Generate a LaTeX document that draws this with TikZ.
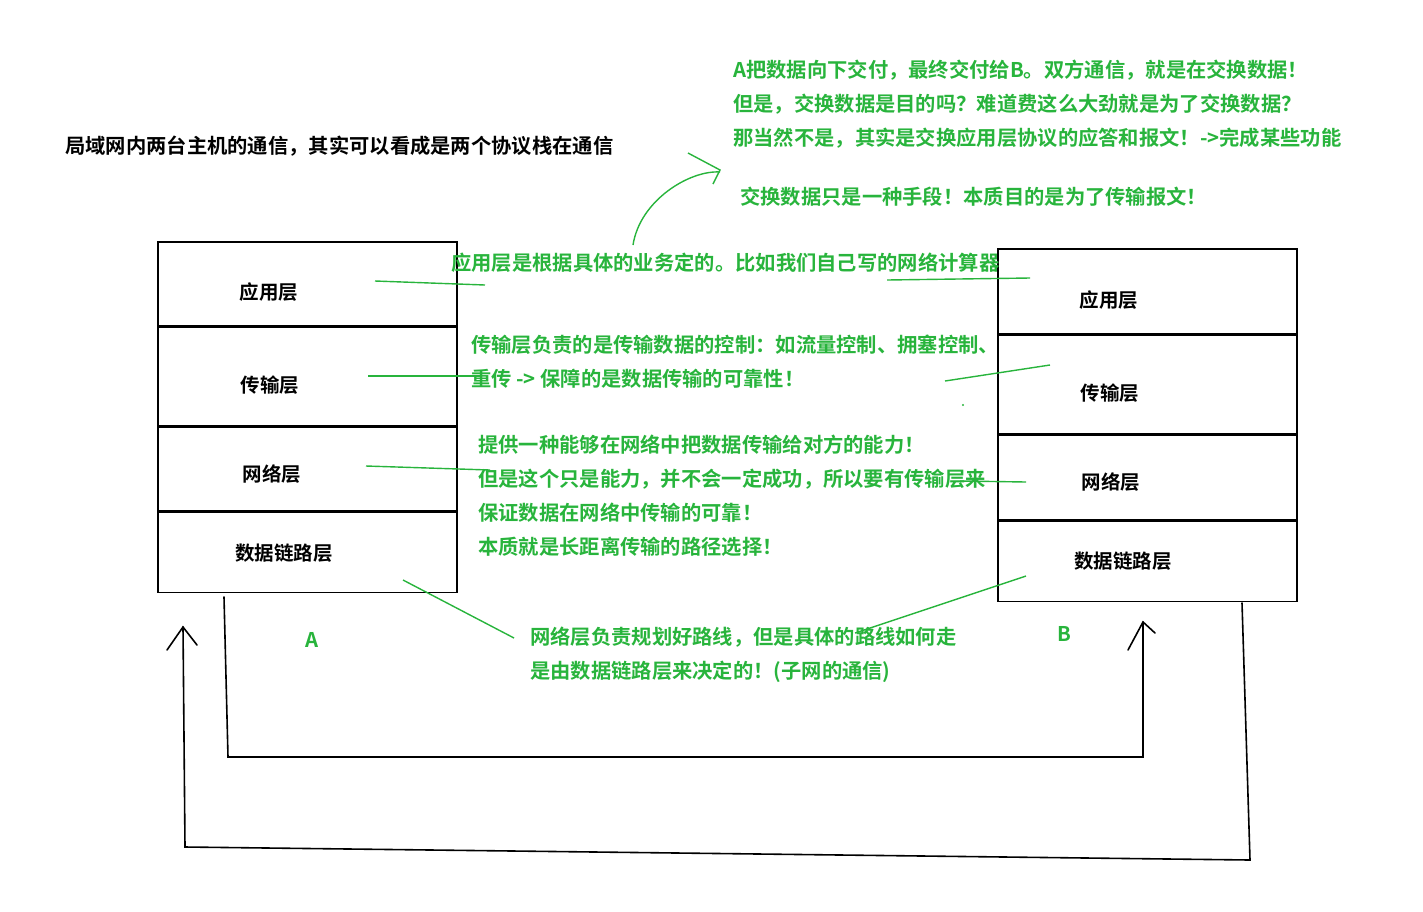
\documentclass[tikz,border=0pt]{standalone}
\usepackage{fontspec}
\setmainfont{Noto Sans CJK SC}[BoldFont={Noto Sans CJK SC Bold}]
\usetikzlibrary{positioning}
\definecolor{pen}{RGB}{40,180,60}
\tikzset{
  layer/.style={draw,line width=1.6pt,minimum width=299pt,inner sep=0pt},
  tag/.style={font=\bfseries\fontsize{19.5}{22}\selectfont,inner sep=0pt},
  note/.style={anchor=west,text=pen,font=\bfseries\fontsize{20.3}{34}\selectfont,align=left,inner sep=0pt},
  penline/.style={pen,line width=1.4pt},
  wire/.style={line width=1.6pt,line cap=round}
}
\begin{document}
\begin{tikzpicture}[x=1pt,y=-1pt]
\useasboundingbox (0,0) rectangle (1423,911);
% left stack
\node[layer,minimum height=84pt,anchor=north west] (a1) at (157,241) {};
\node[layer,minimum height=98pt,below=0pt of a1] (a2) {};
\node[layer,minimum height=84pt,below=0pt of a2] (a3) {};
\node[layer,minimum height=80pt,below=0pt of a3] (a4) {};
\node[tag] (ta1) at (269,292) {应用层};
\node[tag] (ta2) at (270,385) {传输层};
\node[tag] (ta3) at (272,474) {网络层};
\node[tag] (ta4) at (284,553) {数据链路层};
% right stack
\node[layer,minimum height=85pt,anchor=north west] (b1) at (997,248) {};
\node[layer,minimum height=98pt,below=0pt of b1] (b2) {};
\node[layer,minimum height=85pt,below=0pt of b2] (b3) {};
\node[layer,minimum height=80pt,below=0pt of b3] (b4) {};
\node[tag] (tb1) at (1109,300) {应用层};
\node[tag] (tb2) at (1110,393) {传输层};
\node[tag] (tb3) at (1111,482) {网络层};
\node[tag] (tb4) at (1123,561) {数据链路层};
% texts
\node[anchor=west,inner sep=0pt,font=\bfseries\fontsize{20.3}{22}\selectfont] (title) at (65,146) {局域网内两台主机的通信，其实可以看成是两个协议栈在通信};
\node[note] (top) at (733,104) {A把数据向下交付，最终交付给B。双方通信，就是在交换数据！\\但是，交换数据是目的吗？难道费这么大劲就是为了交换数据？\\那当然不是，其实是交换应用层协议的应答和报文！->完成某些功能};
\node[note] (goal) at (740,197) {交换数据只是一种手段！本质目的是为了传输报文！};
\node[note] (n1) at (451,263) {应用层是根据具体的业务定的。比如我们自己写的网络计算器};
\node[note] (n2) at (471,362) {传输层负责的是传输数据的控制：如流量控制、拥塞控制、\\重传 -> 保障的是数据传输的可靠性！};
\node[note] (n3) at (478,496) {提供一种能够在网络中把数据传输给对方的能力！\\但是这个只是能力，并不会一定成功，所以要有传输层来\\保证数据在网络中传输的可靠！\\本质就是长距离传输的路径选择！};
\node[note] (n4) at (530,655) {网络层负责规划好路线，但是具体的路线如何走\\是由数据链路层来决定的！(子网的通信)};
\node[note] (la) at (305,640) {A};
\node[note] (lb) at (1057,634) {B};
% green marks
\draw[penline] (375,281) -- (485,285);
\draw[penline] (368,376) -- (480,376);
\draw[penline] (366,466) -- (490,470);
\draw[penline] (403,580) -- (514,638);
\draw[penline] (887,280) -- (1030,278);
\draw[penline] (945,381) -- (1050,365);
\draw[penline] (960,481) -- (1026,482);
\draw[penline] (1026,576) -- (855,633);
\fill[pen] (963,405) circle (1.2);
\draw[penline] (633,245) .. controls (640,200) and (690,170) .. (720,172);
\draw[penline] (688,153) -- (720,170) -- (713,184);
% black routes
\coordinate (s1) at (224,597);
\coordinate (e1) at (1143,622);
\draw[wire] (s1) -- (228,757) -- (1143,757) -- (e1);
\draw[wire] (1128,650) -- (e1) -- (1155,633);
\coordinate (s2) at (1242,603);
\coordinate (e2) at (183,627);
\draw[wire] (s2) -- (1250,860) -- (185,847) -- (e2);
\draw[wire] (167,650) -- (e2) -- (197,645);
\end{tikzpicture}
\end{document}
